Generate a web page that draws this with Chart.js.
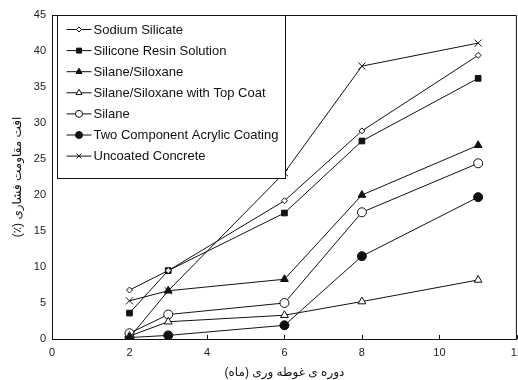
<!DOCTYPE html>
<html>
<head>
<meta charset="utf-8">
<script src="https://cdn.jsdelivr.net/npm/chart.js@4.4.1/dist/chart.umd.min.js"></script>
<style>
  html, body { margin: 0; padding: 0; background: #fff; overflow: hidden; }
  #wrap { width: 518px; height: 380px; overflow: hidden; }
</style>
</head>
<body>
<div id="wrap"><canvas id="c" width="530" height="380"></canvas></div>
<script>
// دوره غوطه وری (ماه)
const months = [2, 3, 6, 8, 11];

const sodiumSilicate   = [6.8, 9.5, 19.2, 28.9, 39.4];
const siliconeResin    = [3.6, 9.5, 17.5, 27.5, 36.2];
const silaneSiloxane   = [0.2, 6.7, 8.3, 20.0, 26.9];
const silaneTopCoat    = [0.4, 2.4, 3.3, 5.2, 8.2];
const silane           = [0.8, 3.4, 5.0, 17.6, 24.4];
const twoComponent     = [0.2, 0.5, 1.9, 11.5, 19.7];
const uncoated         = [5.3, 6.7, 23.1, 37.9, 41.1];

const xTicks = [0, 2, 4, 6, 8, 10, 12];
const yTicks = [0, 5, 10, 15, 20, 25, 30, 35, 40, 45];

const INK = '#111';
const FONT = "Arial, 'Liberation Sans', 'DejaVu Sans', sans-serif";

function pts(vals) {
  return months.map((m, i) => ({ x: m, y: vals[i] }));
}

function series(label, vals, style, filled, radius) {
  return {
    label,
    data: pts(vals),
    borderColor: INK,
    borderWidth: 1,
    pointStyle: style,
    pointRadius: radius,
    pointBorderWidth: 1,
    pointBorderColor: INK,
    pointBackgroundColor: filled ? INK : '#fff',
    _filled: filled,
    tension: 0
  };
}

const datasets = [
  series('Sodium Silicate', sodiumSilicate, 'rectRot', false, 3),
  series('Silicone Resin Solution', siliconeResin, 'rect', true, 4),
  series('Silane/Siloxane', silaneSiloxane, 'triangle', true, 4.5),
  series('Silane/Siloxane with Top Coat', silaneTopCoat, 'triangle', false, 4.5),
  series('Silane', silane, 'circle', false, 4.5),
  series('Two Component Acrylic Coating', twoComponent, 'circle', true, 4.5),
  series('Uncoated Concrete', uncoated, 'crossRot', false, 5)
];

// legend inside the plot + frame + inward ticks
const insideLegend = {
  id: 'insideLegend',
  afterDatasetsDraw(chart) {
    const { ctx, chartArea: a } = chart;
    ctx.save();
    // frame top / right
    ctx.strokeStyle = INK;
    ctx.lineWidth = 1;
    ctx.beginPath();
    ctx.moveTo(a.left, a.top + 0.5);
    ctx.lineTo(a.right - 0.5, a.top + 0.5);
    ctx.lineTo(a.right - 0.5, a.bottom);
    ctx.stroke();
    // inward x ticks
    const xs = chart.scales.x;
    ctx.beginPath();
    xTicks.forEach(v => {
      const px = Math.round(xs.getPixelForValue(v)) + 0.5;
      ctx.moveTo(px, a.bottom);
      ctx.lineTo(px, a.bottom - 4);
    });
    ctx.stroke();

    // legend box
    const bx = a.left + 5.5, by = a.top + 0.5, bw = 228, bh = 163;
    ctx.fillStyle = '#fff';
    ctx.fillRect(bx, by, bw, bh);
    ctx.strokeRect(bx, by, bw, bh);
    ctx.font = '13px ' + FONT;
    ctx.textBaseline = 'middle';
    chart.data.datasets.forEach((d, i) => {
      const y = by + 14 + i * 21.1;
      ctx.strokeStyle = INK;
      ctx.lineWidth = 1;
      ctx.beginPath();
      ctx.moveTo(bx + 9, y);
      ctx.lineTo(bx + 34, y);
      ctx.stroke();
      ctx.fillStyle = d._filled ? INK : '#fff';
      Chart.helpers.drawPoint(ctx, {
        pointStyle: d.pointStyle,
        radius: d.pointStyle === 'rectRot' ? 2.5 : 3.5,
        borderWidth: 1,
        rotation: 0
      }, bx + 21.5, y);
      ctx.fillStyle = INK;
      ctx.fillText(d.label, bx + 36, y + 0.5);
    });
    ctx.restore();
  }
};

new Chart(document.getElementById('c'), {
  type: 'line',
  data: { datasets },
  options: {
    responsive: false,
    animation: false,
    layout: { padding: { left: 0, top: 15, right: 13, bottom: 0 } },
    plugins: { legend: { display: false }, tooltip: { enabled: false } },
    scales: {
      x: {
        type: 'linear', min: 0, max: 12,
        afterBuildTicks: s => { s.ticks = xTicks.map(v => ({ value: v })); },
        afterFit: s => { s.height = 41; },
        grid: { drawOnChartArea: false, drawTicks: false },
        border: { color: INK, width: 1 },
        ticks: { color: '#222', font: { family: FONT, size: 11 }, padding: 7 },
        title: {
          display: true, text: 'دوره ی غوطه وری (ماه)\u200F', color: '#111',
          font: { family: FONT, size: 12 }, padding: { top: 1, bottom: 0 }
        }
      },
      y: {
        min: 0, max: 45,
        afterBuildTicks: s => { s.ticks = yTicks.map(v => ({ value: v })); },
        afterFit: s => { s.width = 52; },
        grid: { drawOnChartArea: false, drawTicks: false },
        border: { color: INK, width: 1 },
        ticks: { color: '#222', font: { family: FONT, size: 11 }, padding: 6 },
        title: {
          display: true, text: 'افت مقاومت فشاری (٪)\u200F', color: '#111',
          font: { family: FONT, size: 12 }, padding: { top: 10, bottom: 0 }
        }
      }
    }
  },
  plugins: [insideLegend]
});
</script>
</body>
</html>
